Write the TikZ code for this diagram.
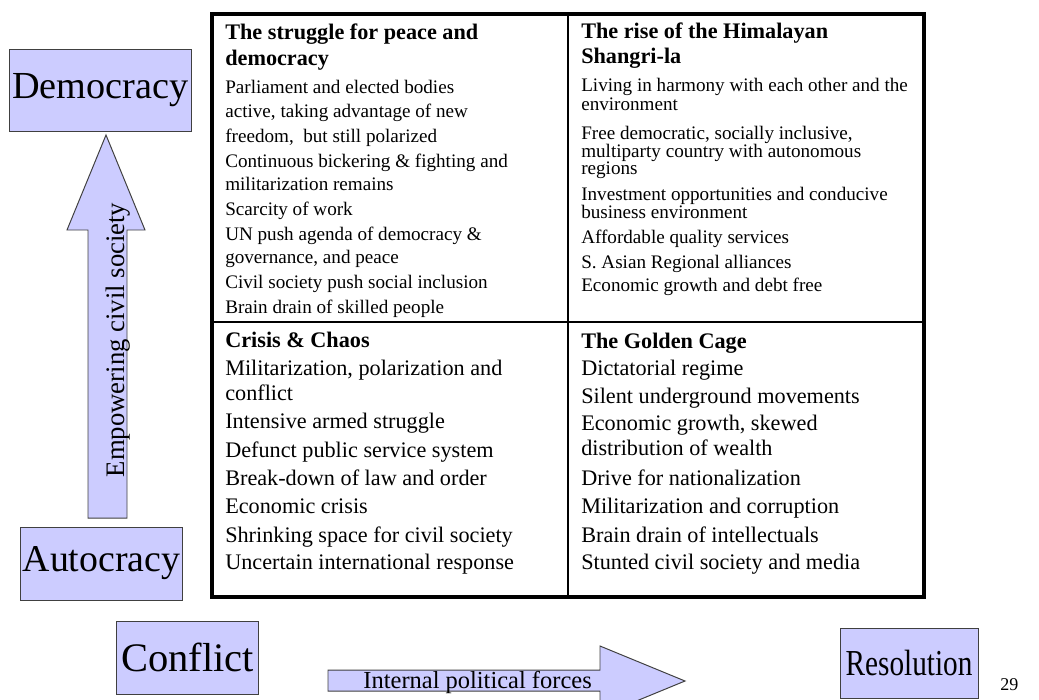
\documentclass[tikz,border=0pt]{standalone}
\usepackage{fontspec}
\setmainfont{Liberation Serif}
\definecolor{boxfill}{HTML}{CCCCFF}
\definecolor{boxline}{HTML}{404040}
\tikzset{
  labelbox/.style={draw=boxline, fill=boxfill, line width=0.7pt, inner sep=0pt},
  blockarrow/.style={draw=boxline, fill=boxfill, line width=0.7pt},
  smallline/.style={anchor=base west, inner sep=0pt, font=\fontsize{13.6}{16}\selectfont},
  bigline/.style={anchor=base west, inner sep=0pt, font=\fontsize{15.8}{18}\selectfont},
  cellhead/.style={anchor=base west, inner sep=0pt, font=\fontsize{15.8}{18}\selectfont\bfseries}
}
\begin{document}
\begin{tikzpicture}[x=0.025cm, y=-0.025cm]
    \useasboundingbox (0,0) rectangle (1039,699);

    % Draw the table of the four scenarios
    \draw[line width=1pt] (568,14) -- (568,597);
    \draw[line width=1pt] (212,322) -- (924,322);
    \draw[line width=2.3pt] (212,14) rectangle (924,597);

    % Top left cell
    \node[cellhead] (tlhead1) at (225,39) {The struggle for peace and};
    \node[cellhead] (tlhead2) at (225,65) {democracy};
    \foreach \y/\t [count=\i] in {93/Parliament and elected bodies,
        117/{active, taking advantage of new}, 142/{freedom,\ \ but still polarized},
        167/Continuous bickering \& fighting and, 190/militarization remains,
        215/Scarcity of work, 240/UN push agenda of democracy \&,
        263/{governance, and peace}, 288/Civil society push social inclusion,
        313/Brain drain of skilled people}
        \node[smallline] (tl\i) at (225,\y) {\t};

    % Top right cell
    \node[cellhead] (trhead1) at (581,38) {The rise of the Himalayan};
    \node[cellhead] (trhead2) at (581,63) {Shangri-la};
    \foreach \y/\t [count=\i] in {91/Living in harmony with each other and the,
        110/environment, 139/{Free democratic, socially inclusive,},
        157/multiparty country with autonomous, 174/regions,
        200/Investment opportunities and conducive, 218/business environment,
        243/Affordable quality services, 268/S. Asian Regional alliances,
        291/Economic growth and debt free}
        \node[smallline] (tr\i) at (581,\y) {\t};

    % Bottom left cell
    \node[cellhead] (blhead) at (225,347) {Crisis \& Chaos};
    \foreach \y/\t [count=\i] in {375/{Militarization, polarization and},
        400/conflict, 428/Intensive armed struggle, 457/Defunct public service system,
        485/Break-down of law and order, 513/Economic crisis,
        542/Shrinking space for civil society, 569/Uncertain international response}
        \node[bigline] (bl\i) at (225,\y) {\t};

    % Bottom right cell
    \node[cellhead] (brhead) at (581,348) {The Golden Cage};
    \foreach \y/\t [count=\i] in {375/Dictatorial regime, 403/Silent underground movements,
        430/{Economic growth, skewed}, 455/distribution of wealth,
        485/Drive for nationalization, 513/Militarization and corruption,
        542/Brain drain of intellectuals, 569/Stunted civil society and media}
        \node[bigline] (br\i) at (581,\y) {\t};

    % Draw the axis boxes
    \node[labelbox, minimum width=4.525cm, minimum height=2.05cm, font=\fontsize{27.2}{30}\selectfont]
        (democracy) at (100.5,90) {Democracy};
    \node[labelbox, minimum width=4.025cm, minimum height=1.825cm, font=\fontsize{26.9}{30}\selectfont]
        (autocracy) at (101.5,563.5) {Autocracy};
    \node[labelbox, minimum width=3.525cm, minimum height=1.825cm, font=\fontsize{28.8}{32}\selectfont]
        (conflict) at (187.5,657.5) {Conflict};
    \node[labelbox, minimum width=3.45cm, minimum height=1.75cm, font=\fontsize{26}{30}\selectfont]
        (resolution) at (909,663) {\scalebox{0.8}[1]{Resolution}};
    \node[inner sep=0pt, anchor=base west, font=\fontsize{12.8}{14}\selectfont] (page) at (1000,690) {29};

    % Draw the block arrows
    \draw[blockarrow] (88,518) -- (88,230) -- (67,230) -- (106,135) -- (145,230)
        -- (127,230) -- (127,518) -- cycle;
    \node[rotate=90, inner sep=0pt, font=\fontsize{19}{22}\selectfont] (civil) at (118,340)
        {Empowering civil society};
    \draw[blockarrow] (328,670) -- (600,670) -- (600,646) -- (685,681) -- (600,716)
        -- (600,691) -- (328,691) -- cycle;
    \node[inner sep=0pt, anchor=base east, font=\fontsize{17.4}{20}\selectfont] (forces) at (592,688)
        {Internal political forces};
\end{tikzpicture}
\end{document}
